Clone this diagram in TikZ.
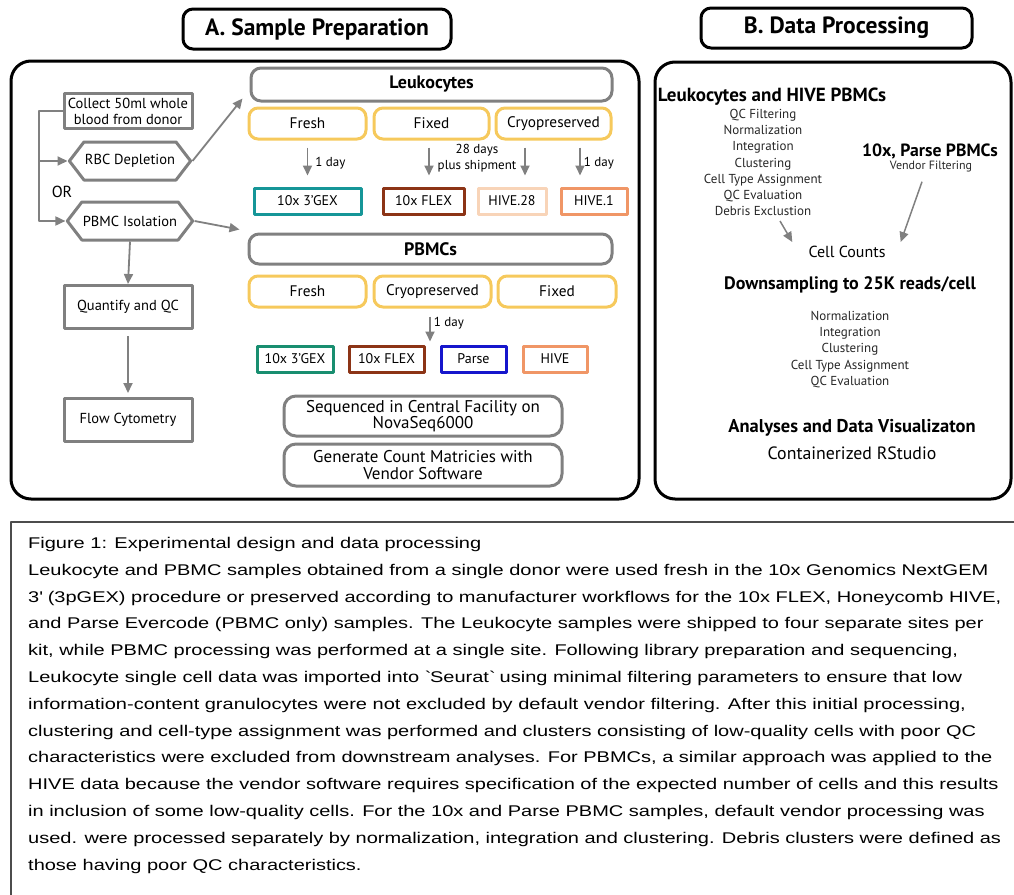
\documentclass[tikz,border=0pt]{standalone}
\usepackage{fontspec}
\setmainfont{PT Sans}
\newfontfamily\capfont{Liberation Sans}[FakeStretch=1.29]
\usetikzlibrary{arrows.meta,shapes.symbols}
\definecolor{boxgray}{RGB}{128,128,128}
\definecolor{stateyellow}{RGB}{246,201,92}
\definecolor{gexteal}{RGB}{22,150,152}
\definecolor{gexgreen}{RGB}{24,142,112}
\definecolor{flexbrown}{RGB}{140,52,22}
\definecolor{hivepeach}{RGB}{248,212,184}
\definecolor{hiveorange}{RGB}{240,150,102}
\definecolor{parseblue}{RGB}{22,22,204}
\tikzset{
  panel/.style={draw=black, line width=3pt, rounded corners=20pt},
  titlebox/.style={draw=black, line width=3pt, rounded corners=10pt, minimum width=268pt, minimum height=40pt, font=\fontsize{23.5}{27}\selectfont\bfseries},
  graybox/.style={draw=boxgray, line width=3pt, minimum width=128pt, inner sep=2pt, align=center, font=\fontsize{14.5}{16}\selectfont},
  hexbox/.style={signal, signal to=east and west, signal pointer angle=105, draw=boxgray, line width=3pt, minimum width=114pt, minimum height=38pt, inner sep=1pt, font=\fontsize{14.5}{16}\selectfont},
  ortext/.style={inner sep=1pt, font=\fontsize{16}{18}\selectfont},
  groupbox/.style={draw=boxgray, line width=3pt, rounded corners=10pt, minimum height=33pt, font=\fontsize{18}{21}\selectfont\bfseries},
  statebox/.style={draw=stateyellow, line width=3pt, rounded corners=9pt, minimum height=31pt, font=\fontsize{15.3}{18}\selectfont},
  kitbox/.style={draw=#1, line width=3pt, minimum height=26pt, inner sep=1pt, font=\fontsize{14}{17}\selectfont},
  seqbox/.style={draw=boxgray, line width=3pt, rounded corners=12pt, minimum width=278pt, align=center, font=\fontsize{17}{16.5}\selectfont},
  daytext/.style={inner sep=1pt, align=center, font=\fontsize{13}{16.5}\selectfont},
  flowarrow/.style={draw=boxgray, line width=1.8pt, ->},
  dayarrow/.style={flowarrow, shorten <=7pt, shorten >=11pt},
  procarrow/.style={draw=boxgray, line width=1.5pt, ->},
  headB/.style={inner sep=0pt, font=\fontsize{19}{22}\selectfont\bfseries},
  stepsB/.style={inner sep=1pt, align=center, text=black!85, font=\fontsize{13}{16.2}\selectfont},
  countB/.style={inner sep=1pt, font=\fontsize{17.8}{20}\selectfont},
  capframe/.style={draw=black!70, line width=1.2pt},
  captext/.style={anchor=base west, inner sep=0pt, font=\capfont\fontsize{15.5}{18}\selectfont}
}
\begin{document}
\begin{tikzpicture}[x=1pt, y=-1pt, line join=round, >={Triangle[width=9pt,length=10pt]}]
\useasboundingbox (0,0) rectangle (1014,894);
\clip (0,0) rectangle (1014,894);
% headings and panels
\node[titlebox] (titleA) at (317,29) {A. Sample Preparation};
\node[titlebox, minimum width=271pt] (titleB) at (836.5,28) {B. Data Processing};
\draw[panel] (11,61) rectangle (639,499);
\draw[panel] (655,62) rectangle (1011,499);
% sample collection
\node[graybox, minimum height=35pt] (collect) at (128,111) {Collect 50ml whole\\blood from donor};
\node[hexbox] (rbc) at (130,161) {RBC Depletion};
\node[hexbox] (pbmciso) at (130,221) {PBMC Isolation};
\node[ortext] (or) at (62,192) {OR};
\node[graybox, minimum height=43pt] (quant) at (128,307) {Quantify and QC};
\node[graybox, minimum height=43pt] (flowcyt) at (128,420) {Flow Cytometry};
\coordinate (branch) at (39,161);
% leukocytes
\node[groupbox, minimum width=361pt] (leuk) at (431.5,84.5) {Leukocytes};
\node[statebox, minimum width=117pt] (lfresh) at (307.5,123.5) {Fresh};
\node[statebox, minimum width=115pt] (lfixed) at (431.5,123.5) {Fixed};
\node[statebox, minimum width=115pt] (lcryo) at (553.5,123.5) {Cryopreserved};
\node[kitbox=gexteal, minimum width=107pt] (lgex) at (307.5,201) {10x 3’GEX};
\node[kitbox=flexbrown, minimum width=81pt] (lflex) at (423.5,201) {10x FLEX};
\node[kitbox=hivepeach, minimum width=68pt] (lhive28) at (512,201) {HIVE.28};
\node[kitbox=hiveorange, minimum width=66pt] (lhive1) at (594,201) {HIVE.1};
\node[daytext] (ship) at (477,158) {28 days\\plus shipment};
% PBMCs
\node[groupbox, minimum width=363pt, minimum height=30pt] (pbmcs) at (430.5,249) {PBMCs};
\node[statebox, minimum width=117pt] (pfresh) at (307.5,291.5) {Fresh};
\node[statebox, minimum width=117pt] (pcryo) at (432.5,291.5) {Cryopreserved};
\node[statebox, minimum width=118pt] (pfixed) at (557,291.5) {Fixed};
\node[kitbox=gexgreen, minimum width=76pt] (pgex) at (295,359) {10x 3’GEX};
\node[kitbox=flexbrown, minimum width=75pt] (pflex) at (386.5,359) {10x FLEX};
\node[kitbox=parseblue, minimum width=65pt] (pparse) at (473.5,359) {Parse};
\node[kitbox=hiveorange, minimum width=64pt] (phive) at (555,359) {HIVE};
\node[seqbox, minimum height=40pt] (seq) at (423,416) {Sequenced in Central Facility on\\NovaSeq6000};
\node[seqbox, minimum height=42pt] (gencount) at (423,465) {Generate Count Matricies with\\Vendor Software};
% arrows of panel A
\draw[flowarrow] (collect.west) -| (branch) |- (pbmciso.west);
\draw[flowarrow] (branch) -- (rbc.west);
\draw[flowarrow] (rbc.east) -- ([shift={(-7,-4)}]leuk.south west);
\draw[flowarrow] (pbmciso.east) -- ([shift={(-8,-3)}]pbmcs.north west);
\draw[flowarrow] (pbmciso.south) -- (quant.north);
\draw[flowarrow, shorten <=6pt, shorten >=4pt] (quant.south) -- (flowcyt.north);
\draw[dayarrow] (lfresh.south) -- (lfresh.south |- lgex.north) node[midway, right, daytext, xshift=6pt] (dayA) {1 day};
\draw[dayarrow] ([xshift=-2.5pt]lfixed.south) -- ([xshift=5.5pt]lflex.north);
\draw[dayarrow] ([xshift=-28.5pt]lcryo.south) -- ([xshift=13pt]lhive28.north);
\draw[dayarrow] ([xshift=26.5pt]lcryo.south) -- ([xshift=-14pt]lhive1.north) node[midway, right, daytext, xshift=2pt] (dayB) {1 day};
\draw[dayarrow, shorten <=8pt, shorten >=3pt] ([xshift=-2.5pt]pcryo.south) -- ([xshift=-2.5pt]pcryo.south |- pflex.north) node[midway, right, daytext, xshift=2pt, yshift=3pt] (dayC) {1 day};
% data processing
\node[headB] (lhhead) at (772,97) {Leukocytes and HIVE PBMCs};
\node[stepsB] (lhsteps) at (763,162.5) {QC Filtering\\Normalization\\Integration\\Clustering\\Cell Type Assignment\\QC Evaluation\\Debris Exclustion};
\node[headB, font=\fontsize{17.7}{20}\selectfont\bfseries] (parsehead) at (930,151) {10x, Parse PBMCs};
\node[stepsB, font=\fontsize{12}{14}\selectfont] (vendorfilt) at (931,167) {Vendor Filtering};
\node[countB, font=\fontsize{16}{18}\selectfont] (cellcounts) at (847,252) {Cell Counts};
\draw[procarrow] ([xshift=17pt,yshift=-4pt]lhsteps.south) -- ([xshift=-15pt,yshift=3pt]cellcounts.north west);
\draw[procarrow] ([xshift=-9pt,yshift=-8pt]vendorfilt.south) -- ([xshift=14pt,yshift=3pt]cellcounts.north east);
\node[headB, font=\fontsize{18}{20}\selectfont\bfseries] (downhead) at (850,285) {Downsampling to 25K reads/cell};
\node[stepsB] (dssteps) at (850,349.5) {Normalization\\Integration\\Clustering\\Cell Type Assignment\\QC Evaluation};
\node[headB, font=\fontsize{18.5}{20}\selectfont\bfseries] (anahead) at (852,428) {Analyses and Data Visualizaton};
\node[countB] (rstudio) at (852,453) {Containerized RStudio};
% caption
\draw[capframe] (11,522) rectangle (1030,910);
\foreach \captxt [count=\i] in {
  {Figure 1: Experimental design and data processing},
  {Leukocyte and PBMC samples obtained from a single donor were used fresh in the 10x Genomics NextGEM},
  {3\textquotesingle\ (3pGEX) procedure or preserved according to manufacturer workflows for the 10x FLEX, Honeycomb HIVE,},
  {and Parse Evercode (PBMC only) samples. The Leukocyte samples were shipped to four separate sites per},
  {kit, while PBMC processing was performed at a single site. Following library preparation and sequencing,},
  {Leukocyte single cell data was imported into \textasciigrave Seurat\textasciigrave\ using minimal filtering parameters to ensure that low},
  {information-content granulocytes were not excluded by default vendor filtering. After this initial processing,},
  {clustering and cell-type assignment was performed and clusters consisting of low-quality cells with poor QC},
  {characteristics were excluded from downstream analyses. For PBMCs, a similar approach was applied to the},
  {HIVE data because the vendor software requires specification of the expected number of cells and this results},
  {in inclusion of some low-quality cells. For the 10x and Parse PBMC samples, default vendor processing was},
  {used. were processed separately by normalization, integration and clustering. Debris clusters were defined as},
  {those having poor QC characteristics.}}
  \node[captext] (cap\i) at (28,{548.5+26.8*(\i-1)}) {\captxt};
\end{tikzpicture}
\end{document}
